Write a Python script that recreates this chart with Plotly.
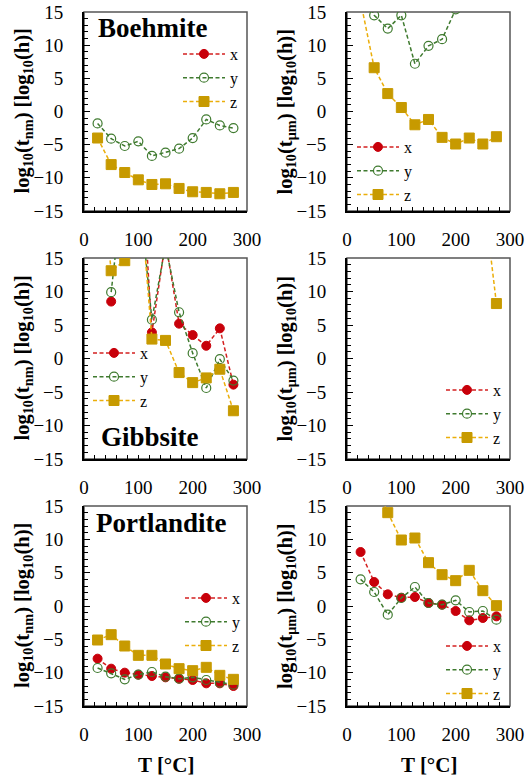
import plotly.graph_objects as go

T = [25, 50, 75, 100, 125, 150, 175, 200, 225, 250, 275]

boeh_nm_x = [None, None, None, None, None, None, None, None, None, None, None]
boeh_nm_y = [-1.8, -4.1, -5.2, -4.5, -6.7, -6.2, -5.6, -4.0, -1.2, -2.1, -2.5]
boeh_nm_z = [-4.0, -8.0, -9.2, -10.3, -11.0, -10.9, -11.6, -12.1, -12.2, -12.4, -12.2]

boeh_um_x = [None, None, None, None, None, None, None, None, None, None, None]
boeh_um_y = [19.0, 14.5, 12.5, 14.5, 7.2, 9.9, 10.9, 15.4, 18.0, 17.5, 17.5]
boeh_um_z = [16.6, 6.6, 2.7, 0.6, -2.0, -1.2, -3.9, -4.9, -4.0, -4.9, -3.8]

gibb_nm_x = [None, 8.5, None, 37.0, 3.9, 17.5, 5.2, 3.5, 1.9, 4.5, -3.9]
gibb_nm_y = [None, 9.9, 28.0, 26.0, 5.8, 16.9, 6.9, 0.8, -4.4, -0.1, -3.3]
gibb_nm_z = [32.0, 13.1, 14.6, 28.0, 2.9, 2.7, -2.1, -3.6, -2.9, -1.6, -7.8]

gibb_um_x = [None, None, None, None, None, None, None, None, None, None, None]
gibb_um_y = [None, None, None, None, None, None, None, None, None, None, None]
gibb_um_z = [None, None, None, None, None, None, None, None, None, 25.2, 8.2]

port_nm_x = [-7.9, -9.4, -10.0, -10.3, -10.5, -10.7, -10.9, -11.1, -11.6, -11.6, -12.0]
port_nm_y = [-9.3, -10.1, -11.0, -10.3, -9.9, -10.6, -10.9, -10.7, -11.1, -11.5, -11.8]
port_nm_z = [-5.1, -4.3, -6.0, -7.4, -7.4, -8.7, -9.4, -9.7, -9.2, -10.4, -11.0]

port_um_x = [8.1, 3.6, 1.75, 1.25, 1.35, 0.45, 0.2, -0.75, -2.15, -1.8, -1.55]
port_um_y = [4.0, 2.1, -1.3, 1.2, 2.85, 0.45, 0.2, 0.85, -0.9, -0.75, -2.05]
port_um_z = [None, 18.5, 14.0, 9.9, 10.2, 6.5, 4.7, 3.8, 5.35, 2.3, 0.05]

series_names = ["x", "y", "z"]
panel_names = ["Boehmite", "", "Gibbsite", "", "Portlandite", ""]
panels = [
    (boeh_nm_x, boeh_nm_y, boeh_nm_z),
    (boeh_um_x, boeh_um_y, boeh_um_z),
    (gibb_nm_x, gibb_nm_y, gibb_nm_z),
    (gibb_um_x, gibb_um_y, gibb_um_z),
    (port_nm_x, port_nm_y, port_nm_z),
    (port_um_x, port_um_y, port_um_z),
]

W, H = 526, 784
FONT = "Liberation Serif"

line_colors = ["#D42020", "#3F7A2F", "#EBAE0A"]
marker_styles = [
    dict(symbol="circle", size=9, color="#C8000A", line=dict(color="#C8000A", width=1)),
    dict(symbol="circle-open", size=9, color="#3F7A2F", line=dict(color="#3F7A2F", width=1.2)),
    dict(symbol="square", size=10, color="#C79A00", line=dict(color="#C79A00", width=1)),
]

cols_px = [(84, 247), (347, 510)]
rows_px = [(12, 211), (258, 459), (506, 706)]
legend_px = [(178, 37), (352, 130), (88, 336), (441, 373), (180, 581), (441, 629)]

fig = go.Figure()
layout = dict(
    width=W, height=H,
    margin=dict(l=0, r=0, t=0, b=0),
    paper_bgcolor="white", plot_bgcolor="white",
    showlegend=True,
    font=dict(family=FONT, size=18, color="black"),
    annotations=[], shapes=[],
)

for i, data in enumerate(panels):
    r, c = divmod(i, 2)
    (xl, xr), (yt, yb) = cols_px[c], rows_px[r]
    k = "" if i == 0 else str(i + 1)
    xa, ya = "x" + k, "y" + k
    lg = "legend" + k
    for s in range(3):
        fig.add_trace(go.Scatter(
            x=T, y=data[s], name=series_names[s], mode="lines+markers",
            line=dict(color=line_colors[s], width=1.5, dash="4px,2.5px"),
            marker=marker_styles[s], xaxis=xa, yaxis=ya, legend=lg,
            connectgaps=False,
        ))
    layout["xaxis" + k] = dict(
        domain=[xl / W, xr / W], anchor=ya, range=[0, 300],
        tickmode="linear", tick0=0, dtick=100, ticks="inside", ticklen=4,
        tickwidth=1, tickcolor="black",
        minor=dict(dtick=20, ticks="inside", ticklen=4, tickcolor="black", tickwidth=1),
        showline=True, linecolor="black", linewidth=2, mirror=False,
        showgrid=False, zeroline=False, ticklabelstandoff=10,
        tickfont=dict(family=FONT, size=19, color="black"), automargin=False,
        fixedrange=True,
    )
    layout["yaxis" + k] = dict(
        domain=[1 - yb / H, 1 - yt / H], anchor=xa, range=[-15, 15],
        tickmode="linear", tick0=-15, dtick=5, ticks="inside", ticklen=6,
        tickwidth=1, tickcolor="black",
        minor=dict(dtick=1, ticks="inside", ticklen=4, tickcolor="black", tickwidth=1),
        showline=True, linecolor="black", linewidth=2, mirror=False,
        showgrid=False, zeroline=False, ticklabelstandoff=15,
        tickfont=dict(family=FONT, size=19, color="black"), automargin=False,
        fixedrange=True,
    )
    layout["shapes"].append(dict(
        type="rect", xref="paper", yref="paper",
        x0=xl / W, x1=xr / W, y0=1 - yb / H, y1=1 - yt / H,
        line=dict(color="#555555", width=1.5), fillcolor="rgba(0,0,0,0)", layer="below",
    ))
    lx, ly = legend_px[i]
    layout[lg] = dict(
        x=lx / W, y=1 - ly / H, xanchor="left", yanchor="top",
        bgcolor="rgba(0,0,0,0)", borderwidth=0,
        font=dict(family=FONT, size=16, color="black"),
        itemwidth=42, tracegroupgap=0, traceorder="normal",
    )
    unit = "nm" if c == 0 else "μm"
    layout["annotations"].append(dict(
        text="<b>log<sub>10</sub>(t<sub>%s</sub>) [log<sub>10</sub>(h)]</b>" % unit,
        textangle=-90, xref="paper", yref="paper",
        x=(xl - 61) / W, y=1 - ((yt + yb) / 2) / H,
        xanchor="center", yanchor="middle", showarrow=False,
        font=dict(family=FONT, size=20.5, color="black"),
    ))

label_pos = {0: (96, 28), 2: (99, 437), 4: (94, 523)}
for i, (px, py) in label_pos.items():
    layout["annotations"].append(dict(
        text="<b>%s</b>" % panel_names[i], xref="paper", yref="paper",
        x=px / W, y=1 - py / H, xanchor="left", yanchor="middle", showarrow=False,
        font=dict(family=FONT, size=27, color="black"),
    ))

for c in range(2):
    xl, xr = cols_px[c]
    layout["annotations"].append(dict(
        text="<b>T [°C]</b>", xref="paper", yref="paper",
        x=((xl + xr) / 2) / W, y=1 - 765 / H, xanchor="center", yanchor="middle",
        showarrow=False, font=dict(family=FONT, size=21, color="black"),
    ))

fig.update_layout(**layout)
fig.write_html("out.html")
